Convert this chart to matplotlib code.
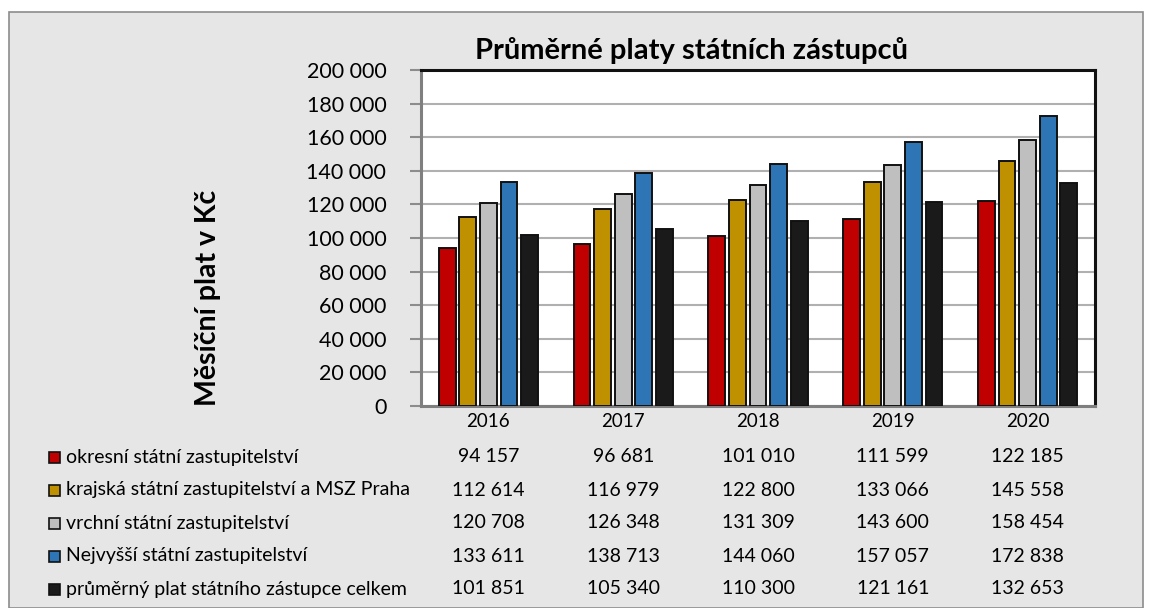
import numpy as np
import matplotlib
matplotlib.use("Agg")
import matplotlib.pyplot as plt
from matplotlib.patches import Rectangle
from matplotlib.transforms import blended_transform_factory

plt.rcParams["font.family"] = ["Lato", "DejaVu Sans"]

years = ["2016", "2017", "2018", "2019", "2020"]
series = [
    "okresní státní zastupitelství",
    "krajská státní zastupitelství a MSZ Praha",
    "vrchní státní zastupitelství",
    "Nejvyšší státní zastupitelství",
    "průměrný plat státního zástupce celkem",
]
okresni = [94157, 96681, 101010, 111599, 122185]
krajska = [112614, 116979, 122800, 133066, 145558]
vrchni = [120708, 126348, 131309, 143600, 158454]
nejvyssi = [133611, 138713, 144060, 157057, 172838]
celkem = [101851, 105340, 110300, 121161, 132653]
values = [okresni, krajska, vrchni, nejvyssi, celkem]
colors = ["#c00000", "#bf9000", "#bfbfbf", "#2e75b6", "#1a1a1a"]

W, H = 1150, 608
fig = plt.figure(figsize=(W / 100, H / 100), dpi=100, facecolor="white")

# chart area background with grey frame
fig.patches.append(Rectangle((9 / W, 0), (1143 - 9) / W, (H - 12) / H,
                             transform=fig.transFigure, facecolor="#e6e6e6",
                             edgecolor="#8c8c8c", linewidth=1.2, zorder=-5))

ax = fig.add_axes([421 / W, (H - 406) / H, (1095 - 421) / W, (406 - 70) / H])
ax.set_zorder(1)
ax.set_facecolor("white")

x = np.arange(len(years))
pitch, bw = 0.153, 0.125
for i, (vals, c) in enumerate(zip(values, colors)):
    ax.bar(x + (i - 2) * pitch, vals, width=bw, color=c,
           edgecolor="#111111", linewidth=1.4, zorder=3)

ax.set_xlim(-0.5, len(years) - 0.5)
ax.set_ylim(0, 200000)
ax.set_yticks(np.arange(0, 200001, 20000))
ax.set_yticklabels([f"{v:,}".replace(",", " ") for v in range(0, 200001, 20000)],
                   fontsize=15.5)
ax.yaxis.grid(True, color="#b0b0b0", linewidth=1.5, zorder=0)
ax.set_axisbelow(True)
ax.tick_params(axis="y", length=8, width=1.5, color="#8c8c8c", pad=17)
ax.set_xticks(x)
ax.set_xticklabels(years, fontsize=13.5)
ax.tick_params(axis="x", length=0, pad=5)

for side in ("top", "right"):
    ax.spines[side].set_color("#111111")
    ax.spines[side].set_linewidth(2.2)
for side in ("left", "bottom"):
    ax.spines[side].set_color("#7f7f7f")
    ax.spines[side].set_linewidth(2.2)

fig.text(692 / W, 1 - 50 / H, "Průměrné platy státních zástupců", fontsize=21,
         fontweight="bold", ha="center", va="center")
fig.text(208 / W, 1 - 298 / H, "Měsíční plat v Kč", rotation=90, fontsize=20.5,
         fontweight="bold", ha="center", va="center")

# data table
tr = blended_transform_factory(ax.transData, fig.transFigure)
row_y = [457, 490, 523, 556, 589]
for name, vals, c, ry in zip(series, values, colors, row_y):
    yf = 1 - ry / H
    fig.patches.append(Rectangle((49 / W, yf - 5.5 / H), 11 / W, 11 / H,
                                 transform=fig.transFigure, facecolor=c,
                                 edgecolor="#111111", linewidth=1.2, zorder=2))
    fig.text(66 / W, yf, name, fontsize=14, ha="left", va="center")
    for xi, v in zip(x, vals):
        ax.text(xi, yf, f"{v:,}".replace(",", " "), transform=tr, fontsize=14,
                ha="center", va="center", clip_on=False)

fig.savefig("out.png", dpi=100, facecolor=fig.get_facecolor())
